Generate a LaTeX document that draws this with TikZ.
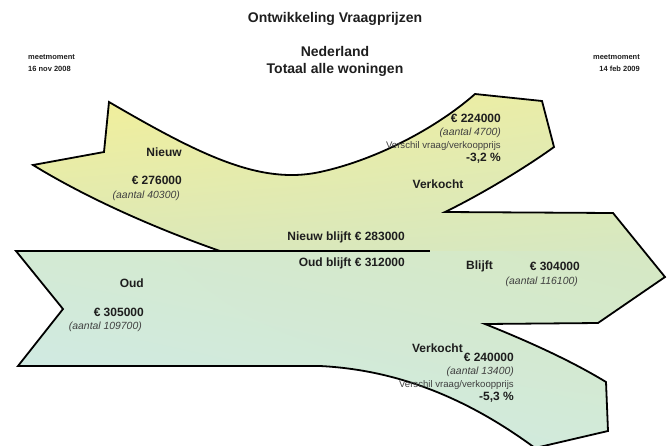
\documentclass[tikz,border=0pt]{standalone}
\usepackage{fontspec}
\setmainfont{Liberation Sans}
\usetikzlibrary{shadings}
\definecolor{aUL}{HTML}{F4F097}
\definecolor{aUR}{HTML}{E8ECAA}
\definecolor{aLL}{HTML}{DDE8B6}
\definecolor{aLR}{HTML}{D6E8C2}
\definecolor{bUL}{HTML}{D3EAD4}
\definecolor{bUR}{HTML}{D6E8C2}
\definecolor{bLL}{HTML}{CEEAEE}
\definecolor{bLR}{HTML}{D2EAD8}
\definecolor{txt}{HTML}{1E1E1E}
\newcommand\flowshapepath{%
  (109,102) .. controls (200,155) and (260,185) .. (320,172)
  .. controls (380,159) and (440,125) .. (475,94)
  -- (542,101) -- (554,147)
  .. controls (525,168) and (480,195) .. (445,212)
  -- (613,213) -- (665,277) -- (598,323) -- (485,324)
  .. controls (525,340) and (570,360) .. (606,382)
  -- (608,431) -- (535,448)
  .. controls (470,400) and (400,370) .. (320,366)
  -- (18,366) -- (63,309) -- (16,251) -- (220,251)
  .. controls (160,230) and (90,200) .. (33,165)
  -- (104,152) -- cycle}
\begin{document}
\begin{tikzpicture}[x=1pt,y=-1pt,
  lbl/.style={font=\fontsize{12}{14}\selectfont\bfseries, inner sep=0pt, text=txt},
  cnt/.style={font=\fontsize{10.4}{12}\selectfont\itshape, inner sep=0pt, text=txt!85},
  sml/.style={font=\fontsize{9.6}{11}\selectfont, inner sep=0pt, text=txt!85},
  ttl/.style={font=\fontsize{14}{16}\selectfont\bfseries, inner sep=0pt, text=txt},
  tinytxt/.style={font=\fontsize{7.5}{9}\selectfont\bfseries, inner sep=0pt, text=txt},
  outline/.style={draw=black, line width=1.8pt, line join=miter},
  fillA/.style={shading=bilinear interpolation, upper left=aUL, upper right=aUR, lower left=aLL, lower right=aLR},
  fillB/.style={shading=bilinear interpolation, upper left=bUL, upper right=bUR, lower left=bLL, lower right=bLR}]
\useasboundingbox (0,0) rectangle (671,445);
\begin{scope}
\clip (0,0) rectangle (671,445);
\begin{scope}
\clip \flowshapepath;
\shade[fillA] (0,90) rectangle (671,251);
\shade[fillB] (0,251) rectangle (671,450);
\end{scope}
\draw[outline] \flowshapepath;
\coordinate (sepA) at (220,251);
\coordinate (sepB) at (430,251);
\draw[outline] (sepA) -- (sepB);
\end{scope}
% header
\node[ttl] (title) at (335,19) {Ontwikkeling Vraagprijzen};
\node[ttl] (ned) at (335,51) {Nederland};
\node[ttl] (tot) at (335,70) {Totaal alle woningen};
\node[tinytxt, anchor=west] (mm1) at (28,57) {meetmoment};
\node[tinytxt, anchor=west] (d1) at (28,69) {16 nov 2008};
\node[tinytxt, anchor=east] (mm2) at (640,57) {meetmoment};
\node[tinytxt, anchor=east] (d2) at (640,69) {14 feb 2009};
% nieuw
\node[lbl, anchor=east] (nieuw) at (182,152) {Nieuw};
\node[lbl, anchor=east] (pn) at (182,180) {€ 276000};
\node[cnt, anchor=east] (an) at (180,196) {(aantal 40300)};
% verkocht nieuw
\node[lbl, anchor=east] (pvn) at (501,118) {€ 224000};
\node[cnt, anchor=east] (avn) at (501,133) {(aantal 4700)};
\node[sml, anchor=east] (vvn) at (501,146) {Verschil vraag/verkoopprijs};
\node[lbl, anchor=east] (pcn) at (501,158) {-3,2 \%};
\node[lbl] (vkn) at (438,184) {Verkocht};
% blijft
\node[lbl, anchor=east] (nb) at (405,237) {Nieuw blijft € 283000};
\node[lbl, anchor=east] (ob) at (405,263) {Oud blijft € 312000};
% oud
\node[lbl, anchor=east] (oud) at (144,283) {Oud};
\node[lbl, anchor=east] (po) at (144,312) {€ 305000};
\node[cnt, anchor=east] (ao) at (142,327) {(aantal 109700)};
% blijft totaal
\node[lbl, anchor=west] (bl) at (466,266) {Blijft};
\node[lbl, anchor=east] (pb) at (580,266) {€ 304000};
\node[cnt, anchor=east] (ab) at (578,282) {(aantal 116100)};
% verkocht oud
\node[lbl, anchor=east] (vko) at (463,348) {Verkocht};
\node[lbl, anchor=east] (pvo) at (514,357) {€ 240000};
\node[cnt, anchor=east] (avo) at (514,372) {(aantal 13400)};
\node[sml, anchor=east] (vvo) at (514,385) {Verschil vraag/verkoopprijs};
\node[lbl, anchor=east] (pco) at (514,397) {-5,3 \%};
\end{tikzpicture}
\end{document}
